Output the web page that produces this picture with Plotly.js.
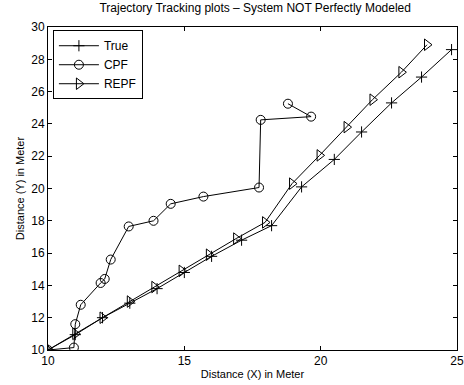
<!DOCTYPE html>
<html><head><meta charset="utf-8">
<script src="https://cdn.plot.ly/plotly-3.0.1.min.js"></script>
<style>body{margin:0;background:#fff;overflow:hidden}#c{width:464px;height:385px}</style>
</head><body><div id="c"></div>
<script>
var trueX = [10, 11, 12, 13, 14, 15, 16, 17.1, 18.2, 19.3, 20.5, 21.5, 22.6, 23.7, 24.8];
var trueY = [10, 10.95, 12, 12.9, 13.8, 14.8, 15.8, 16.8, 17.7, 20.1, 21.8, 23.5, 25.3, 26.9, 28.6];
var cpfX = [10, 10.95, 11.0, 11.2, 11.93, 12.08, 12.3, 12.96, 13.87, 14.5, 15.7, 17.74, 17.8, 19.65, 18.8];
var cpfY = [10, 10.15, 11.6, 12.8, 14.15, 14.4, 15.6, 17.65, 18.0, 19.05, 19.5, 20.06, 24.25, 24.45, 25.25];
var repfX = [10, 11.0, 12.0, 13.0, 13.9, 14.9, 15.9, 16.9, 17.96, 18.95, 19.96, 20.95, 21.9, 22.96, 23.9];
var repfY = [10, 11.0, 12.0, 13.0, 13.9, 14.9, 15.9, 16.9, 17.9, 20.3, 22.05, 23.8, 25.5, 27.2, 28.9];
var names = ["True", "CPF", "REPF"];

var line = {color: "#000", width: 1};
var traces = [
  {x: trueX, y: trueY, name: names[0], mode: "lines+markers", line: line,
   marker: {symbol: "cross-thin-open", size: 8, color: "#000", line: {color: "#000", width: 1}}},
  {x: cpfX, y: cpfY, name: names[1], mode: "lines+markers", line: line,
   marker: {symbol: "circle-open", size: 9, color: "#000", line: {color: "#000", width: 1}}},
  {x: repfX, y: repfY, name: names[2], mode: "lines+markers", line: line,
   marker: {symbol: "triangle-right-open", size: 10, color: "#000", line: {color: "#000", width: 1}}}
];
var ax = {showgrid: false, zeroline: false, showline: true, mirror: "ticks", linecolor: "#000", linewidth: 1,
  ticks: "inside", ticklen: 4, tickcolor: "#000", ticklabeloverflow: "allow",
  tickfont: {family: "Liberation Sans, Arial", size: 12, color: "#000"}};
var layout = {
  width: 464, height: 385,
  margin: {l: 48, r: 7, t: 27, b: 35},
  paper_bgcolor: "#fff", plot_bgcolor: "#fff",
  font: {family: "Liberation Sans, Arial", color: "#000"},
  title: {text: "Trajectory Tracking plots \u2013 System NOT Perfectly Modeled", font: {size: 12, color: "#000"},
    x: 0.55, xanchor: "center", y: 0.99, yanchor: "top"},
  xaxis: Object.assign({}, ax, {range: [10, 25], tickvals: [10, 15, 20, 25],
    title: {text: "Distance (X) in Meter", font: {size: 11}, standoff: 2}}),
  yaxis: Object.assign({}, ax, {range: [10, 30], tickvals: [10, 12, 14, 16, 18, 20, 22, 24, 26, 28, 30],
    title: {text: "Distance (Y) in Meter", font: {size: 11}, standoff: 4}}),
  showlegend: true,
  legend: {x: 0.012, y: 0.99, xanchor: "left", yanchor: "top", bgcolor: "#fff", bordercolor: "#000", borderwidth: 1,
    font: {size: 12, color: "#000"}, tracegroupgap: 0, itemwidth: 40}
};
Plotly.newPlot("c", traces, layout, {staticPlot: true});
</script></body></html>
